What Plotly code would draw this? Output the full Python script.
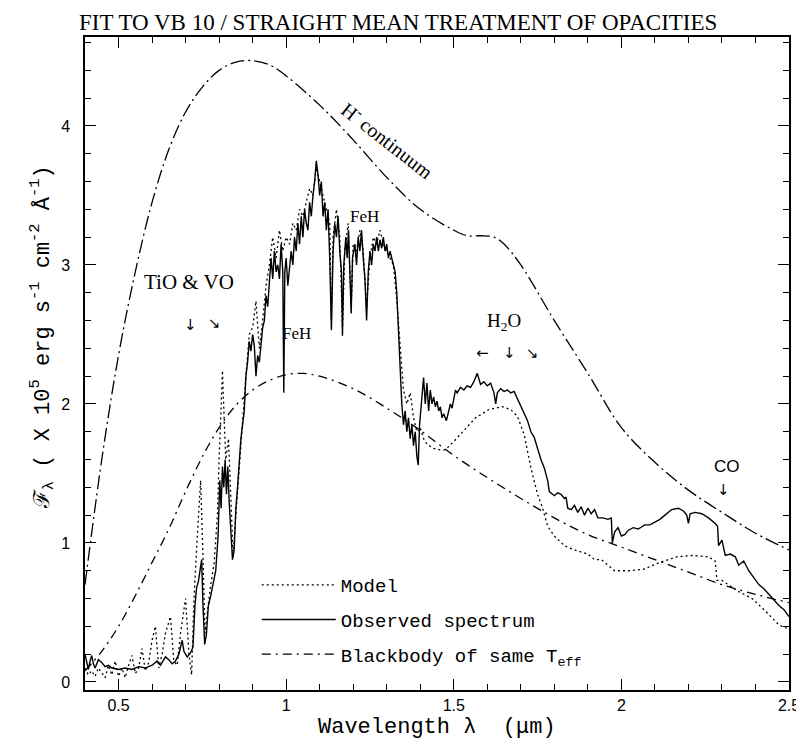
import plotly.graph_objs as go

# observed spectrum of VB 10 (flux in 1e5 erg/s/cm2/A)
obs_x = [0.400, 0.405, 0.410, 0.415, 0.420, 0.425, 0.430, 0.440, 0.450, 0.460, 0.470, 0.480,
         0.500, 0.520, 0.540, 0.560, 0.580, 0.600, 0.615, 0.625, 0.640, 0.650, 0.660, 0.670,
         0.680, 0.690, 0.695, 0.705, 0.715, 0.722, 0.728, 0.733, 0.738, 0.743, 0.748, 0.752,
         0.757, 0.762, 0.768, 0.775, 0.782, 0.790, 0.797, 0.802, 0.806, 0.810, 0.814, 0.818,
         0.822, 0.826, 0.830, 0.835, 0.840, 0.845, 0.850, 0.855, 0.860, 0.865, 0.870, 0.875,
         0.880, 0.885, 0.890, 0.895, 0.900, 0.905, 0.910, 0.915, 0.920, 0.925, 0.930, 0.935,
         0.940, 0.945, 0.950, 0.955, 0.960, 0.965, 0.970, 0.975, 0.980, 0.985, 0.990, 0.993,
         0.996, 1.000, 1.005, 1.010, 1.015, 1.020, 1.025, 1.030, 1.035, 1.040, 1.045, 1.050,
         1.055, 1.060, 1.065, 1.070, 1.075, 1.080, 1.085, 1.090, 1.095, 1.100, 1.105, 1.110,
         1.115, 1.120, 1.125, 1.130, 1.135, 1.140, 1.145, 1.150, 1.155, 1.160, 1.165, 1.168,
         1.172, 1.178, 1.182, 1.186, 1.190, 1.194, 1.198, 1.205, 1.210, 1.215, 1.220, 1.225,
         1.230, 1.235, 1.240, 1.245, 1.250, 1.255, 1.260, 1.265, 1.270, 1.275, 1.280, 1.285,
         1.290, 1.295, 1.300, 1.305, 1.310, 1.315, 1.320, 1.325, 1.330, 1.335, 1.340, 1.345,
         1.350, 1.355, 1.360, 1.365, 1.370, 1.375, 1.380, 1.385, 1.390, 1.394, 1.398, 1.402,
         1.406, 1.410, 1.415, 1.420, 1.425, 1.430, 1.435, 1.440, 1.445, 1.450, 1.455, 1.460,
         1.465, 1.470, 1.478, 1.485, 1.490, 1.495, 1.500, 1.505, 1.510, 1.520, 1.530, 1.540,
         1.550, 1.560, 1.570, 1.575, 1.580, 1.590, 1.600, 1.610, 1.620, 1.625, 1.630, 1.640,
         1.650, 1.660, 1.670, 1.680, 1.690, 1.700, 1.710, 1.720, 1.730, 1.740, 1.750, 1.760,
         1.770, 1.780, 1.785, 1.790, 1.800, 1.810, 1.820, 1.830, 1.835, 1.840, 1.850, 1.860,
         1.870, 1.880, 1.890, 1.900, 1.910, 1.920, 1.930, 1.945, 1.960, 1.970, 1.973, 1.980,
         1.990, 2.000, 2.010, 2.020, 2.035, 2.050, 2.070, 2.085, 2.100, 2.115, 2.130, 2.150,
         2.170, 2.185, 2.195, 2.200, 2.205, 2.220, 2.240, 2.260, 2.280, 2.287, 2.290, 2.300,
         2.310, 2.325, 2.340, 2.350, 2.365, 2.380, 2.395, 2.410, 2.425, 2.440, 2.455, 2.470,
         2.485, 2.500]
obs_y = [0.20, 0.14, 0.09, 0.15, 0.19, 0.13, 0.10, 0.16, 0.14, 0.11, 0.12, 0.10,
         0.09, 0.10, 0.09, 0.11, 0.10, 0.12, 0.15, 0.12, 0.18, 0.16, 0.13, 0.15,
         0.20, 0.30, 0.22, 0.18, 0.21, 0.25, 0.55, 0.68, 0.72, 0.80, 0.88, 0.55,
         0.27, 0.34, 0.55, 0.62, 0.70, 0.80, 1.05, 1.45, 1.25, 1.55, 1.40, 1.60,
         1.35, 1.55, 1.30, 1.10, 0.88, 0.95, 1.25, 1.40, 1.60, 1.75, 1.85, 1.95,
         2.20, 2.30, 2.45, 2.38, 2.50, 2.42, 2.20, 2.35, 2.30, 2.45, 2.55, 2.60,
         2.78, 2.70, 2.85, 3.05, 2.90, 3.10, 2.95, 3.00, 2.90, 3.15, 2.95, 2.08,
         2.95, 3.05, 2.85, 3.00, 3.10, 3.00, 3.20, 3.10, 3.30, 3.15, 3.35, 3.20,
         3.40, 3.30, 3.25, 3.45, 3.35, 3.50, 3.60, 3.75, 3.65, 3.50, 3.60, 3.35,
         3.45, 3.25, 3.40, 3.05, 2.53, 3.10, 3.30, 3.20, 3.35, 3.10, 2.95, 2.49,
         3.00, 3.20, 3.05, 3.25, 3.00, 2.65, 3.05, 3.15, 3.00, 3.20, 3.10, 3.25,
         3.05, 2.90, 2.60, 2.95, 3.10, 3.00, 3.15, 3.10, 3.20, 3.10, 3.18, 3.12,
         3.20, 3.10, 3.15, 3.05, 3.10, 3.05, 3.00, 2.95, 2.80, 2.50, 2.20, 2.00,
         1.85, 1.95, 1.80, 1.90, 1.75, 1.85, 1.70, 1.80, 1.62, 1.56, 1.85, 1.95,
         2.10, 2.19, 2.00, 2.15, 1.95, 2.10, 2.00, 2.05, 1.98, 2.02, 1.95, 1.98,
         1.90, 1.93, 1.88, 1.95, 2.00, 1.97, 2.05, 2.10, 2.08, 2.12, 2.10, 2.13,
         2.12, 2.16, 2.22, 2.17, 2.14, 2.16, 2.13, 2.15, 2.08, 2.00, 2.08, 2.11,
         2.09, 2.10, 2.08, 2.09, 2.04, 1.98, 1.93, 1.88, 1.80, 1.76, 1.68, 1.60,
         1.54, 1.45, 1.37, 1.36, 1.34, 1.36, 1.35, 1.32, 1.33, 1.25, 1.24, 1.27,
         1.22, 1.26, 1.20, 1.25, 1.21, 1.24, 1.18, 1.18, 1.17, 1.18, 1.00, 1.08,
         1.11, 1.05, 1.06, 1.09, 1.11, 1.10, 1.13, 1.13, 1.15, 1.17, 1.20, 1.24,
         1.25, 1.23, 1.20, 1.14, 1.21, 1.22, 1.21, 1.18, 1.14, 1.12, 0.98, 1.02,
         0.91, 0.92, 0.90, 0.84, 0.87, 0.80, 0.75, 0.70, 0.67, 0.63, 0.59, 0.55,
         0.52, 0.47]

# model spectrum
mod_x = [0.400, 0.410, 0.420, 0.430, 0.440, 0.450, 0.460, 0.470, 0.480, 0.490, 0.500, 0.510,
         0.520, 0.530, 0.540, 0.550, 0.560, 0.570, 0.580, 0.590, 0.600, 0.610, 0.620, 0.630,
         0.640, 0.655, 0.665, 0.675, 0.685, 0.700, 0.710, 0.718, 0.725, 0.735, 0.745, 0.752,
         0.758, 0.765, 0.775, 0.785, 0.795, 0.800, 0.805, 0.810, 0.815, 0.820, 0.828, 0.835,
         0.842, 0.850, 0.860, 0.870, 0.880, 0.890, 0.900, 0.910, 0.915, 0.920, 0.930, 0.940,
         0.950, 0.960, 0.970, 0.980, 0.990, 1.000, 1.010, 1.020, 1.030, 1.040, 1.050, 1.060,
         1.070, 1.080, 1.090, 1.100, 1.110, 1.120, 1.130, 1.135, 1.140, 1.150, 1.160, 1.168,
         1.175, 1.185, 1.194, 1.200, 1.210, 1.220, 1.230, 1.240, 1.250, 1.260, 1.270, 1.280,
         1.290, 1.300, 1.310, 1.320, 1.330, 1.340, 1.350, 1.360, 1.370, 1.380, 1.390, 1.400,
         1.410, 1.420, 1.440, 1.460, 1.475, 1.500, 1.530, 1.565, 1.605, 1.645, 1.670, 1.690,
         1.710, 1.730, 1.750, 1.765, 1.780, 1.800, 1.830, 1.860, 1.900, 1.920, 1.940, 1.960,
         1.980, 2.020, 2.065, 2.115, 2.165, 2.210, 2.260, 2.280, 2.285, 2.300, 2.350, 2.390,
         2.430, 2.470, 2.490, 2.500]
mod_y = [0.10, 0.05, 0.08, 0.04, 0.10, 0.06, 0.03, 0.12, 0.05, 0.15, 0.04, 0.10,
         0.03, 0.12, 0.19, 0.06, 0.10, 0.24, 0.08, 0.14, 0.30, 0.40, 0.10, 0.20,
         0.35, 0.47, 0.15, 0.12, 0.35, 0.60, 0.20, 0.05, 0.60, 1.05, 1.45, 0.90,
         0.35, 0.50, 0.70, 0.85, 1.20, 1.60, 2.00, 2.24, 1.90, 1.60, 1.75, 1.25,
         0.90, 1.20, 1.55, 1.85, 2.20, 2.50, 2.55, 2.74, 2.55, 2.40, 2.60, 2.85,
         3.00, 3.20, 3.05, 3.25, 3.10, 3.20, 3.15, 3.30, 3.25, 3.40, 3.35, 3.45,
         3.55, 3.50, 3.70, 3.60, 3.50, 3.40, 3.30, 2.60, 3.20, 3.40, 3.20, 2.55,
         3.10, 3.30, 2.70, 3.15, 3.10, 3.25, 3.10, 2.70, 3.05, 3.20, 3.15, 3.25,
         3.15, 3.10, 3.05, 3.00, 2.75, 2.40, 2.10, 2.00, 2.08, 1.90, 1.80, 1.83,
         1.75, 1.71, 1.68, 1.67, 1.67, 1.73, 1.81, 1.90, 1.96, 1.98, 1.96, 1.91,
         1.78, 1.54, 1.35, 1.25, 1.12, 1.05, 0.98, 0.95, 0.92, 0.88, 0.88, 0.84,
         0.80, 0.80, 0.81, 0.86, 0.90, 0.91, 0.90, 0.87, 0.73, 0.73, 0.65, 0.60,
         0.51, 0.41, 0.39, 0.38]

# blackbody of same Teff
bb_x = [0.40, 0.45, 0.50, 0.55, 0.60, 0.65, 0.70, 0.75, 0.80, 0.85, 0.90, 0.95, 1.00, 1.05,
        1.10, 1.20, 1.30, 1.40, 1.50, 1.60, 1.70, 1.80, 1.90, 2.00, 2.10, 2.20, 2.30, 2.40, 2.50]
bb_y = [0.08, 0.22, 0.40, 0.62, 0.86, 1.10, 1.37, 1.62, 1.83, 1.99, 2.10, 2.17, 2.21, 2.22,
        2.20, 2.11, 1.97, 1.81, 1.63, 1.47, 1.32, 1.18, 1.06, 0.97, 0.88, 0.79, 0.70, 0.63, 0.57]

# H- continuum
hm_x = [0.40, 0.45, 0.50, 0.55, 0.60, 0.65, 0.70, 0.75, 0.80, 0.85, 0.90, 0.95, 1.00, 1.10,
        1.20, 1.30, 1.40, 1.50, 1.54, 1.58, 1.62, 1.65, 1.70, 1.80, 1.90, 2.00, 2.10, 2.20,
        2.30, 2.40, 2.50]
hm_y = [0.70, 1.60, 2.35, 2.95, 3.45, 3.83, 4.10, 4.28, 4.40, 4.46, 4.47, 4.44, 4.36, 4.15,
        3.90, 3.63, 3.40, 3.25, 3.21, 3.21, 3.20, 3.15, 3.00, 2.60, 2.22, 1.83, 1.58, 1.38,
        1.22, 1.07, 0.95]

mono = 'Liberation Mono'
serif = 'Liberation Serif'
arrowfont = 'DejaVu Sans'

trace1 = go.Scatter(x=mod_x, y=mod_y, mode='lines', name='Model', legendgroup='a',
                    line=dict(color='black', width=1.3, dash='2px,3px'))
trace2 = go.Scatter(x=obs_x, y=obs_y, mode='lines', name='Observed spectrum', legendgroup='b',
                    line=dict(color='black', width=1.4))
trace3 = go.Scatter(x=bb_x, y=bb_y, mode='lines', line_shape='spline',
                    name='Blackbody of same T<sub>eff</sub>', legendgroup='c',
                    line=dict(color='black', width=1.3, dash='9px,5px,2px,5px'))
trace4 = go.Scatter(x=hm_x, y=hm_y, mode='lines', line_shape='spline', showlegend=False,
                    line=dict(color='black', width=1.3, dash='14px,4px,2px,4px'))

notes = [
    dict(x=1.305, y=3.90, text='H<sup>-</sup> continuum', textangle=38, font=dict(size=20)),
    dict(x=0.709, y=2.88, text='TiO &amp; VO', font=dict(size=21)),
    dict(x=0.715, y=2.57, text='↓', font=dict(size=15, family=arrowfont)),
    dict(x=0.785, y=2.58, text='↘', font=dict(size=15, family=arrowfont)),
    dict(x=1.03, y=2.51, text='FeH', font=dict(size=17)),
    dict(x=1.235, y=3.35, text='FeH', font=dict(size=17)),
    dict(x=1.65, y=2.59, text='H<sub>2</sub>O', font=dict(size=19)),
    dict(x=1.585, y=2.37, text='←', font=dict(size=15, family=arrowfont)),
    dict(x=1.665, y=2.37, text='↓', font=dict(size=15, family=arrowfont)),
    dict(x=1.735, y=2.37, text='↘', font=dict(size=15, family=arrowfont)),
    dict(x=2.315, y=1.55, text='CO', font=dict(size=17, family='Liberation Sans')),
    dict(x=2.305, y=1.38, text='↓', font=dict(size=15, family=arrowfont)),
]
annotations = []
for n in notes:
    n['font'].setdefault('family', serif)
    n['font']['color'] = 'black'
    annotations.append(dict(n, xref='x', yref='y', showarrow=False))

annotations += [
    dict(text='FIT TO VB 10 / STRAIGHT MEAN TREATMENT OF OPACITIES', xref='paper', yref='paper',
         x=-0.012, y=1.022, xanchor='left', yanchor='middle', showarrow=False,
         font=dict(family=serif, size=23, color='black')),
    dict(text='Wavelength λ  (μm)', xref='paper', yref='paper', x=0.5, y=-0.058,
         xanchor='center', yanchor='middle', showarrow=False,
         font=dict(family=mono, size=22, color='black')),
    dict(text='ℱ<sub>λ</sub> ( X 10<sup>5</sup> erg s<sup>-1</sup> cm<sup>-2</sup> Å<sup>-1</sup>)',
         xref='paper', yref='paper', x=-0.06, y=0.54, textangle=-90,
         xanchor='center', yanchor='middle', showarrow=False,
         font=dict(family=mono, size=22, color='black')),
]

axis_common = dict(showgrid=False, zeroline=False, showline=True, linecolor='black', linewidth=1.5,
                   mirror='ticks', ticks='inside', ticklen=11, tickwidth=1.2, tickcolor='black',
                   tickfont=dict(family='Liberation Sans', size=16, color='black'))

layout = go.Layout(
    width=804, height=744,
    margin=dict(l=77, r=13, t=29, b=62),
    paper_bgcolor='white', plot_bgcolor='white',
    xaxis=dict(axis_common, range=[0.4, 2.5], tickvals=[0.5, 1, 1.5, 2, 2.5],
               ticktext=['0.5', '1', '1.5', '2', '2.5'],
               minor=dict(ticks='inside', ticklen=6, dtick=0.1, tick0=0, tickcolor='black')),
    yaxis=dict(axis_common, range=[-0.058, 4.64], tickvals=[0, 1, 2, 3, 4], ticklabelstandoff=10,
               minor=dict(ticks='inside', ticklen=6, dtick=0.2, tick0=0, tickcolor='black')),
    showlegend=True,
    legend=dict(x=0.244, y=0.19, xanchor='left', yanchor='top', bgcolor='rgba(0,0,0,0)',
                tracegroupgap=7, itemwidth=74,
                font=dict(family=mono, size=19, color='black')),
    annotations=annotations,
)

fig = go.Figure(data=[trace1, trace2, trace3, trace4], layout=layout)
fig.write_html('out.html')
